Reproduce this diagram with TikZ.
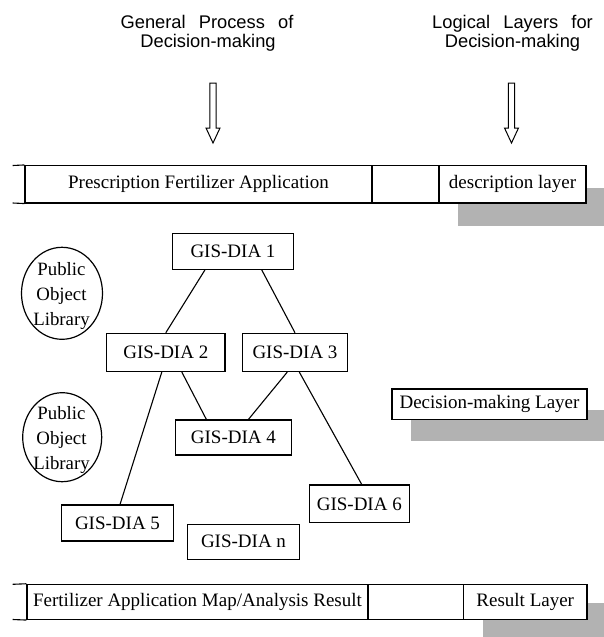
\documentclass[tikz,border=0pt]{standalone}
\usepackage{fontspec}
\setmainfont{Liberation Serif}
\newfontfamily\headfont{Liberation Sans}
\usetikzlibrary{shapes.geometric}
\definecolor{shadowgray}{RGB}{178,178,178}
\newcommand{\boxfont}{\fontsize{19}{22}\selectfont}
\newcommand{\libfont}{\fontsize{18.8}{25}\selectfont}
\newcommand{\hdfont}{\headfont\fontsize{18.3}{20}\selectfont\spaceskip=0.72em}
\tikzset{
  lbox/.style={draw, line width=1.1pt, fill=white, inner sep=0pt, font=\boxfont},
  shadow/.style={fill=shadowgray, draw=none},
  link/.style={line width=1.1pt},
  lib/.style={draw, line width=1.2pt, ellipse, inner sep=0pt},
  libtext/.style={inner sep=0pt, align=center, font=\libfont},
  head/.style={anchor=base, inner sep=0pt, font=\hdfont},
  hollow/.style={draw, line width=1pt, fill=white, line join=miter}
}
\begin{document}
\begin{tikzpicture}[x=1pt, y=-1pt]
\useasboundingbox (0,0) rectangle (604,637);

% headings
\node[head] (h1a) at (207,28) {General Process of};
\node[head] (h1b) at (208,47) {Decision-making};
\node[head] (h2a) at (512.5,28) {Logical Layers for};
\node[head] (h2b) at (512.5,47) {Decision-making};

% hollow down arrows
\draw[hollow] (209.8,83) -- (216.2,83) -- (216.2,128) -- (220,128) -- (213,143)
  -- (206,128) -- (209.8,128) -- cycle;
\draw[hollow] (508.3,83) -- (514.7,83) -- (514.7,128) -- (518.5,128) -- (511.5,143)
  -- (504.5,128) -- (508.3,128) -- cycle;

% layer shadows
\fill[shadow] (458,188) rectangle (604,226);
\fill[shadow] (411,410) rectangle (604,440.5);
\fill[shadow] (483,603) rectangle (604,637);

% description layer bar
\node[lbox, minimum width=347pt, minimum height=37.5pt] (pfa) at (198.5,184.25)
  {Prescription Fertilizer Application};
\node[lbox, minimum width=67pt, minimum height=37.5pt] (gap1) at (405.5,184.25) {};
\node[lbox, minimum width=147pt, minimum height=37.5pt] (desc) at (512.5,184.25)
  {description layer};
\coordinate (t1) at (12.7,165.5);
\coordinate (t2) at (12.7,203);
\draw[link] (t1) -- (pfa.north west);
\draw[link] (t2) -- (pfa.south west);

% decision-making layer
\node[lbox, minimum width=195pt, minimum height=30.5pt] (dml) at (489.5,404.2)
  {Decision-making Layer};

% result layer bar
\node[lbox, minimum width=341pt, minimum height=35.2pt] (far) at (197.5,601.9)
  {Fertilizer Application Map/Analysis Result};
\node[lbox, minimum width=95.5pt, minimum height=35.2pt] (gap2) at (415.75,601.9) {};
\node[lbox, minimum width=123.5pt, minimum height=35.2pt] (res) at (525.25,601.9)
  {Result Layer};
\coordinate (b1) at (12.7,584.3);
\coordinate (b2) at (12.7,619.5);
\draw[link] (b1) -- (far.north west);
\draw[link] (b2) -- (far.south west);

% public object libraries
\node[lib, minimum width=81pt, minimum height=92pt] (lib1) at (62,293.3) {};
\node[libtext] (lib1t) at (61.5,296) {Public\\Object\\Library};
\node[lib, minimum width=79pt, minimum height=89pt] (lib2) at (62.2,437.2) {};
\node[libtext] (lib2t) at (61.5,440) {Public\\Object\\Library};

% GIS-DIA modules
\node[lbox, minimum width=120.6pt, minimum height=36pt] (g1) at (233,251.3) {GIS-DIA 1};
\node[lbox, minimum width=118.3pt, minimum height=38.2pt] (g2) at (165.8,352.4) {GIS-DIA 2};
\node[lbox, minimum width=104.6pt, minimum height=38.2pt] (g3) at (295,352.4) {GIS-DIA 3};
\node[lbox, minimum width=115.8pt, minimum height=35pt] (g4) at (233.4,437.5) {GIS-DIA 4};
\node[lbox, minimum width=111.6pt, minimum height=36pt] (g5) at (117.5,523) {GIS-DIA 5};
\node[lbox, minimum width=100pt, minimum height=37.7pt] (g6) at (359.3,503.8) {GIS-DIA 6};
\node[lbox, minimum width=111.6pt, minimum height=35.3pt] (gn) at (243.5,541.7) {GIS-DIA n};

% links between modules
\draw[link] ([xshift=-28pt]g1.south) -- (g2.north);
\draw[link] ([xshift=28.7pt]g1.south) -- (g3.north);
\draw[link] ([xshift=-4pt]g2.south) -- ([xshift=2.5pt]g5.north);
\draw[link] ([xshift=16pt]g2.south) -- ([xshift=-27pt]g4.north);
\draw[link] ([xshift=-7.7pt]g3.south) -- ([xshift=15pt]g4.north);
\draw[link] ([xshift=4.3pt]g3.south) -- ([xshift=2.4pt]g6.north);
\end{tikzpicture}
\end{document}
